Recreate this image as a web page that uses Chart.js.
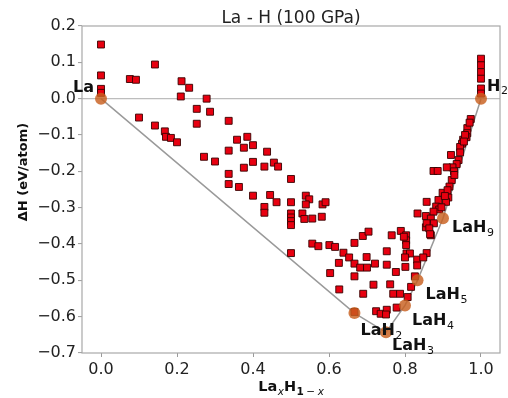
<!DOCTYPE html>
<html>
<head>
<meta charset="utf-8">
<script src="https://cdn.jsdelivr.net/npm/chart.js@4/dist/chart.umd.min.js"></script>
<style>
  html, body { margin: 0; padding: 0; background: #fff; }
  #wrap { width: 508px; height: 398px; }
</style>
</head>
<body>
<div id="wrap"><canvas id="chart" width="508" height="398"></canvas></div>
<script>
const FONT = "'DejaVu Sans', sans-serif";

// phases on the convex hull
const hullNames = ["La", "LaH2", "LaH3", "LaH4", "LaH5", "LaH9", "H2"];
const hullX = [0.0, 0.667, 0.75, 0.8, 0.833, 0.9, 1.0];
const hullY = [0.0, -0.59, -0.643, -0.569, -0.5, -0.329, 0.0];

// all calculated structures
const calcX = [
  0, 0, 0, 0, 0.076, 0.092, 0.142, 0.1, 0.142, 0.168, 0.171, 0.184, 0.2,
  0.212, 0.232, 0.21, 0.278, 0.252, 0.287, 0.252, 0.271, 0.3, 0.336, 0.336,
  0.336, 0.336, 0.363, 0.358, 0.376, 0.385, 0.4, 0.376, 0.4, 0.4, 0.437,
  0.43, 0.455, 0.466, 0.445, 0.462, 0.43, 0.43, 0.5, 0.5, 0.5, 0.5, 0.5,
  0.5, 0.539, 0.548, 0.539, 0.53, 0.535, 0.556, 0.581, 0.583, 0.591, 0.5,
  0.556, 0.572, 0.601, 0.616, 0.638, 0.653, 0.626, 0.667, 0.689, 0.704,
  0.699, 0.667, 0.682, 0.70, 0.721, 0.765, 0.789, 0.803, 0.803, 0.803,
  0.855, 0.868, 0.752, 0.752, 0.776, 0.804, 0.813, 0.801, 0.832, 0.832,
  0.857, 0.848, 0.826, 0.667, 0.717, 0.761, 0.627, 0.69, 0.769, 0.787,
  0.816, 0.807, 0.778, 0.724, 0.736, 0.752, 0.75, 0.603, 0.667, 0.973,
  0.964, 0.964, 0.962, 0.953, 0.95, 0.945, 0.945, 0.921, 0.941, 0.936,
  0.925, 0.91, 0.875, 0.886, 0.929, 0.923, 0.917, 0.899, 0.914, 0.908,
  0.888, 0.857, 0.882, 0.89, 0.875, 0.833, 0.855, 0.868, 0.857, 0.876,
  0.864, 0.866, 0.797, 0.97, 0.958, 0.955, 0.93, 0.912, 0.905, 0.896,
  1, 1, 1, 1, 1, 1, 0.8
];
const calcY = [
  0.149, 0.064, 0.027, 0.016, 0.054, 0.052, 0.094, -0.052, -0.074, -0.09,
  -0.105, -0.108, -0.12, 0.048, 0.03, 0.006, 0.0, -0.028, -0.036, -0.069,
  -0.16, -0.173, -0.061, -0.143, -0.207, -0.235, -0.243, -0.113, -0.135,
  -0.105, -0.128, -0.19, -0.174, -0.267, -0.146, -0.187, -0.176, -0.187,
  -0.265, -0.285, -0.298, -0.314, -0.221, -0.285, -0.316, -0.327, -0.337,
  -0.348, -0.267, -0.277, -0.291, -0.316, -0.331, -0.33, -0.325, -0.291,
  -0.285, -0.425, -0.399, -0.406, -0.403, -0.408, -0.424, -0.437, -0.452,
  -0.397, -0.378, -0.366, -0.436, -0.454, -0.465, -0.465, -0.454, -0.376,
  -0.364, -0.376, -0.39, -0.403, -0.354, -0.376, -0.42, -0.457, -0.477,
  -0.426, -0.426, -0.463, -0.443, -0.459, -0.425, -0.437, -0.489, -0.489,
  -0.512, -0.511, -0.525, -0.537, -0.537, -0.537, -0.518, -0.546, -0.575,
  -0.585, -0.592, -0.581, -0.594, -0.48, -0.587, -0.056, -0.081, -0.095,
  -0.106, -0.113, -0.124, -0.133, -0.148, -0.155, -0.169, -0.18, -0.189,
  -0.189, -0.199, -0.199, -0.2, -0.224, -0.242, -0.259, -0.272, -0.284,
  -0.279, -0.284, -0.297, -0.305, -0.311, -0.316, -0.323, -0.33, -0.343,
  -0.343, -0.357, -0.373, -0.38, -0.066, -0.1, -0.118, -0.21, -0.252,
  -0.268, -0.299, 0.11, 0.092, 0.073, 0.055, 0.028, 0.014, -0.437
];

const xTicks = [0.0, 0.2, 0.4, 0.6, 0.8, 1.0];
const yTicks = [-0.7, -0.6, -0.5, -0.4, -0.3, -0.2, -0.1, 0.0, 0.1, 0.2];

// label placement relative to each hull point (pixels)
const labelOffsets = {
  La: [-28, -7], H2: [6, -8], LaH9: [9, 14], LaH5: [8, 19],
  LaH4: [7, 20], LaH2: [6, 22], LaH3: [6, 18]
};

const calcPoints = calcX.map((x, i) => ({ x: x, y: calcY[i] }));
const hullPoints = hullX.map((x, i) => ({ x: x, y: hullY[i] }));

function fmt(v) {
  const s = Math.abs(v).toFixed(1);
  return v < -1e-9 ? "\u2212" + s : s;
}

const decorations = {
  id: "decorations",
  beforeDatasetsDraw(chart) {
    const { ctx, chartArea: a } = chart;
    ctx.save();
    ctx.strokeStyle = "#a8a8a8";
    ctx.lineWidth = 1.2;
    ctx.strokeRect(a.left, a.top, a.right - a.left, a.bottom - a.top);
    ctx.restore();
  },
  afterDraw(chart) {
    const { ctx, chartArea: a, scales: { x, y } } = chart;
    const cx = (a.left + a.right) / 2;
    ctx.save();
    ctx.fillStyle = "#111";
    ctx.textBaseline = "alphabetic";

    // phase labels
    hullNames.forEach((name, i) => {
      const m = name.match(/^(.*?)(\d*)$/);
      const off = labelOffsets[name];
      const px = x.getPixelForValue(hullX[i]) + off[0];
      const py = y.getPixelForValue(hullY[i]) + off[1];
      ctx.font = "bold 16px " + FONT;
      ctx.fillText(m[1], px, py);
      if (m[2]) {
        const w = ctx.measureText(m[1]).width;
        ctx.font = "11px " + FONT;
        ctx.fillText(m[2], px + w + 0.5, py + 3.5);
      }
    });

    // title
    ctx.font = "17px " + FONT;
    ctx.textAlign = "center";
    ctx.fillStyle = "#222";
    ctx.fillText("La - H (100 GPa)", cx, 22.5);

    // y title
    ctx.save();
    ctx.translate(27, 172);
    ctx.rotate(-Math.PI / 2);
    ctx.font = "bold 13px " + FONT;
    ctx.fillStyle = "#111";
    ctx.fillText("\u0394H (eV/atom)", 0, 0);
    ctx.restore();

    // x title La_x H_{1-x}
    ctx.textAlign = "left";
    ctx.fillStyle = "#111";
    const parts = [
      { t: "La", f: "bold 14.5px " + FONT, dy: 0, gap: 0.5 },
      { t: "x", f: "italic 10.5px " + FONT, dy: 3.5, gap: 0 },
      { t: "H", f: "bold 14.5px " + FONT, dy: 0, gap: 0.5 },
      { t: "1", f: "bold 10.5px " + FONT, dy: 3.5, gap: 2.5 },
      { t: "\u2212", f: "10.5px " + FONT, dy: 3.5, gap: 2.5 },
      { t: "x", f: "italic 10.5px " + FONT, dy: 3.5, gap: 0 }
    ];
    let total = 0;
    parts.forEach(p => { ctx.font = p.f; p.w = ctx.measureText(p.t).width; total += p.w + p.gap; });
    let px = cx - total / 2;
    parts.forEach(p => {
      ctx.font = p.f;
      ctx.fillText(p.t, px, 391 + p.dy);
      px += p.w + p.gap;
    });
    ctx.restore();
  }
};

new Chart(document.getElementById("chart"), {
  type: "scatter",
  data: {
    datasets: [
      {
        label: "hull points",
        data: hullPoints,
        showLine: false,
        pointRadius: 6,
        pointHoverRadius: 6,
        pointBackgroundColor: "rgba(200, 95, 30, 0.82)",
        pointBorderWidth: 0,
        order: 0
      },
      {
        label: "structures",
        data: calcPoints,
        pointStyle: "rect",
        pointRadius: 4.9,
        pointHoverRadius: 4.9,
        pointBackgroundColor: "rgb(232, 0, 16)",
        pointBorderColor: "rgba(55, 0, 0, 0.9)",
        pointBorderWidth: 1,
        order: 1
      },
      {
        label: "hull",
        data: hullPoints,
        showLine: true,
        borderColor: "#9a9a9a",
        borderWidth: 1.5,
        pointRadius: 0,
        order: 2
      }
    ]
  },
  options: {
    responsive: false,
    animation: false,
    events: [],
    layout: { padding: { top: 26, right: 8, left: 0, bottom: 0 } },
    plugins: { legend: { display: false }, tooltip: { enabled: false }, title: { display: false } },
    scales: {
      x: {
        type: "linear",
        min: -0.05,
        max: 1.05,
        afterBuildTicks: s => { s.ticks = xTicks.map(v => ({ value: v })); },
        afterFit: s => { s.height = 45; },
        border: { display: false },
        grid: { drawOnChartArea: false, tickLength: 4, tickColor: "#9a9a9a", tickWidth: 1 },
        ticks: { padding: 3, color: "#222", font: { family: FONT, size: 16 }, callback: v => fmt(v) }
      },
      y: {
        type: "linear",
        min: -0.7,
        max: 0.2,
        afterBuildTicks: s => { s.ticks = yTicks.map(v => ({ value: v })); },
        afterFit: s => { s.width = 82; },
        border: { display: false },
        grid: {
          color: c => (c.tick && Math.abs(c.tick.value) < 1e-9 ? "#bdbdbd" : "rgba(0,0,0,0)"),
          lineWidth: 1.2,
          tickLength: 4,
          tickColor: "#9a9a9a",
          tickWidth: 1
        },
        ticks: { padding: 2, color: "#222", font: { family: FONT, size: 16 }, callback: v => fmt(v) }
      }
    }
  },
  plugins: [decorations]
});
</script>
</body>
</html>
